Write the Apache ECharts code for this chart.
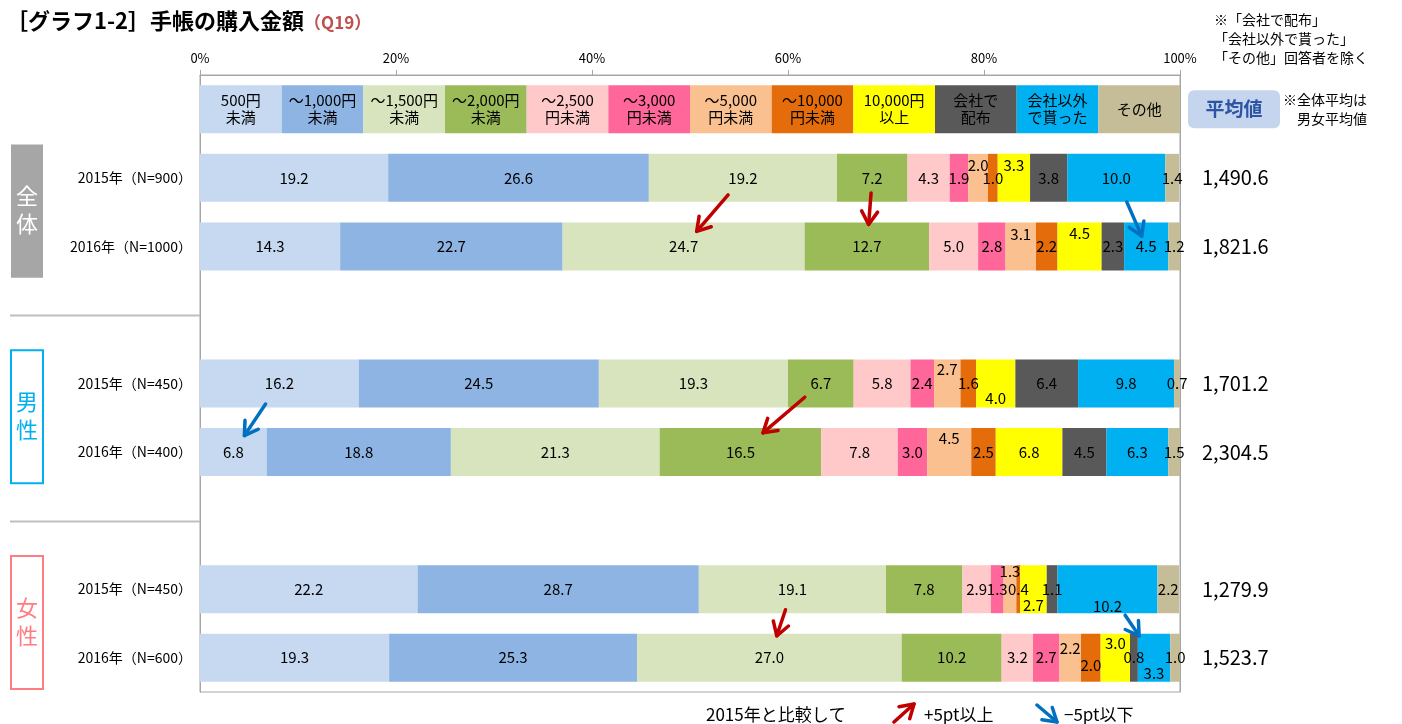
<!DOCTYPE html>
<html>
<head>
<meta charset="utf-8">
<script src="https://cdn.jsdelivr.net/npm/echarts@6/dist/echarts.min.js"></script>
<style>
  html, body { margin: 0; padding: 0; background: #fff; }
  #main { width: 1402px; height: 724px; }
</style>
</head>
<body>
<div id="main"></div>
<script>
// 区分（凡例を兼ねる）
const priceBands = ['500円\n未満', '～1,000円\n未満', '～1,500円\n未満', '～2,000円\n未満', '～2,500\n円未満', '～3,000\n円未満',
  '～5,000\n円未満', '～10,000\n円未満', '10,000円\n以上', '会社で\n配布', '会社以外\nで貰った', 'その他'];
const bandColors = ['#C6D9F1', '#8EB4E3', '#D7E4BD', '#9BBB59', '#FFC9CA', '#FF6699',
  '#FAC090', '#E46C0A', '#FFFF00', '#595959', '#00B0F0', '#C4BD97'];

// 行ラベル（先頭は凡例の行、空文字は区切り）
const rowLabels = ['', '2015年（N=900）', '2016年（N=1000）', '', '2015年（N=450）', '2016年（N=400）', '', '2015年（N=450）', '2016年（N=600）'];
const averages = ['', '1,490.6', '1,821.6', '', '1,701.2', '2,304.5', '', '1,279.9', '1,523.7'];

const all2015 = [19.2, 26.6, 19.2, 7.2, 4.3, 1.9, 2.0, 1.0, 3.3, 3.8, 10.0, 1.4];
const all2016 = [14.3, 22.7, 24.7, 12.7, 5.0, 2.8, 3.1, 2.2, 4.5, 2.3, 4.5, 1.2];
const men2015 = [16.2, 24.5, 19.3, 6.7, 5.8, 2.4, 2.7, 1.6, 4.0, 6.4, 9.8, 0.7];
const men2016 = [6.8, 18.8, 21.3, 16.5, 7.8, 3.0, 4.5, 2.5, 6.8, 4.5, 6.3, 1.5];
const women2015 = [22.2, 28.7, 19.1, 7.8, 2.9, 1.3, 1.3, 0.4, 2.7, 1.1, 10.2, 2.2];
const women2016 = [19.3, 25.3, 27.0, 10.2, 3.2, 2.7, 2.2, 2.0, 3.0, 0.8, 3.3, 1.0];

const rowValues = [null, all2015, all2016, null, men2015, men2016, null, women2015, women2016];

// 小さい区分のラベル位置ずらし [行, 区分, dx, dy]
const labelShift = [
  [1, 6, 0, -13], [1, 8, 0, -13],
  [2, 6, 0, -12], [2, 8, 0, -13],
  [4, 6, 0, -14], [4, 8, 0, 15],
  [5, 6, 0, -14],
  [7, 6, 0, -18], [7, 8, 0, 16], [7, 10, 0, 17],
  [8, 6, 0, -9], [8, 7, 0, 8], [8, 8, 0, -14], [8, 10, 0, 16]
];

// 5pt以上の変化（行from→to、区分）
const red = '#C00000', blue = '#0070C0';
const arrows = [
  { from: 1, to: 2, seg: 2, color: red, t0: 0.25, t1: 0.78 },
  { from: 1, to: 2, seg: 3, color: red, t0: 0.22, t1: 0.68 },
  { from: 1, to: 2, seg: 10, color: blue, t0: 0.35, t1: 0.85 },
  { from: 4, to: 5, seg: 0, color: blue, t0: 0.3, t1: 0.76 },
  { from: 4, to: 5, seg: 3, color: red, t0: 0.2, t1: 0.72 },
  { from: 7, to: 8, seg: 2, color: red, t0: 0.3, t1: 0.68 },
  { from: 7, to: 8, seg: 10, color: blue, t0: 0.38, t1: 0.68 }
];

const font = "'Noto Sans CJK JP', sans-serif";
const legendShare = 100 / priceBands.length;
const chart = echarts.init(document.getElementById('main'));

const series = priceBands.map(function (name, j) {
  const data = rowValues.map(function (r, i) {
    if (i === 0) return { value: legendShare, label: { fontSize: 15, lineHeight: 17 } };
    return r ? { value: r[j] } : null;
  });
  labelShift.forEach(function (s) {
    if (s[1] === j) data[s[0]].label = { offset: [s[2], s[3]] };
  });
  return {
    name: name,
    type: 'bar',
    stack: 'total',
    barWidth: 48,
    itemStyle: { color: bandColors[j] },
    label: {
      show: true,
      color: '#000',
      fontSize: 15,
      fontFamily: font,
      formatter: function (p) {
        return p.dataIndex === 0 ? priceBands[p.seriesIndex] : p.value.toFixed(1);
      }
    },
    emphasis: { disabled: true },
    data: data
  };
});

chart.setOption({
  animation: false,
  textStyle: { fontFamily: font },
  title: {
    left: 6, top: 10, padding: 0,
    text: '{a|［グラフ1-2］手帳の購入金額}{b|（Q19）}',
    textStyle: {
      rich: {
        a: { fontSize: 22, fontWeight: 'bold', color: '#000', fontFamily: font },
        b: { fontSize: 17, color: '#C0504D', fontFamily: font, padding: [3, 0, 0, 0] }
      }
    }
  },
  grid: { left: 200, right: 222, top: 75, bottom: 32, show: true, borderColor: '#a6a6a6', borderWidth: 1 },
  xAxis: {
    type: 'value', position: 'top', min: 0, max: 100, interval: 20,
    axisLabel: { formatter: '{value}%', fontSize: 13, color: '#000', margin: 10 },
    axisLine: { show: true, lineStyle: { color: '#a6a6a6' } },
    axisTick: { show: true, length: 5, lineStyle: { color: '#a6a6a6' } },
    splitLine: { show: false }
  },
  yAxis: [
    {
      type: 'category', inverse: true, data: rowLabels,
      axisLine: { lineStyle: { color: '#a6a6a6' } },
      axisTick: { length: 5, lineStyle: { color: '#a6a6a6' } },
      axisLabel: { fontSize: 14, color: '#000', margin: 8 }
    },
    {
      type: 'category', inverse: true, position: 'right', data: averages,
      axisLine: { show: true, lineStyle: { color: '#a6a6a6' } },
      axisTick: { show: false },
      axisLabel: { fontSize: 20, color: '#000', margin: 22 }
    }
  ],
  series: series
});

// 軸の座標から注記を配置
function px(x, row) {
  return chart.convertToPixel({ xAxisIndex: 0, yAxisIndex: 0 }, [x, row]);
}
const bandH = px(0, 1)[1] - px(0, 0)[1];

function arrow(x1, y1, x2, y2, color) {
  const dx = x2 - x1, dy = y2 - y1, len = Math.sqrt(dx * dx + dy * dy);
  const ux = dx / len, uy = dy / len, h = 13, w = 8;
  return [
    { type: 'polyline', z: 100, shape: { points: [[x1, y1], [x2, y2]] }, style: { stroke: color, lineWidth: 3.5, lineCap: 'round', fill: null } },
    { type: 'polyline', z: 100, shape: { points: [[x2 - h * ux - w * uy, y2 - h * uy + w * ux], [x2, y2], [x2 - h * ux + w * uy, y2 - h * uy - w * ux]] },
      style: { stroke: color, lineWidth: 3.5, lineCap: 'round', lineJoin: 'round', fill: null } }
  ];
}

function segCenter(row, seg) {
  const vals = rowValues[row];
  let start = 0;
  for (let k = 0; k < seg; k++) start += vals[k];
  return px(start + vals[seg] / 2, row);
}

const graphics = [];

// グループ枠
const groups = [
  { text: '全\n体', rows: [1, 2], fill: '#A6A6A6', stroke: null, color: '#fff' },
  { text: '男\n性', rows: [4, 5], fill: '#fff', stroke: '#00B0F0', color: '#00B0F0' },
  { text: '女\n性', rows: [7, 8], fill: '#fff', stroke: '#FF7C80', color: '#FF7C80' }
];
groups.forEach(function (g) {
  const top = px(0, g.rows[0])[1] - bandH / 2;
  const bottom = px(0, g.rows[1])[1] + bandH / 2;
  graphics.push({ type: 'rect', shape: { x: 11, y: top + 1, width: 32, height: bottom - top - 4 },
    style: { fill: g.fill, stroke: g.stroke, lineWidth: 2 } });
  graphics.push({ type: 'text', x: 27, y: (top + bottom) / 2 - 2,
    style: { text: g.text, fontSize: 22, lineHeight: 28, fill: g.color, align: 'center', verticalAlign: 'middle', fontFamily: font } });
});

// 区切り線
[3, 6].forEach(function (row) {
  const y = Math.round(px(0, row)[1]) + 0.5;
  graphics.push({ type: 'line', shape: { x1: 10, y1: y, x2: 200, y2: y }, style: { stroke: '#bfbfbf', lineWidth: 2 } });
});

// 変化の矢印
arrows.forEach(function (a) {
  const p = segCenter(a.from, a.seg), q = segCenter(a.to, a.seg);
  const s = [p[0] + (q[0] - p[0]) * a.t0, p[1] + (q[1] - p[1]) * a.t0];
  const e = [p[0] + (q[0] - p[0]) * a.t1, p[1] + (q[1] - p[1]) * a.t1];
  arrow(s[0], s[1], e[0], e[1], a.color).forEach(function (el) { graphics.push(el); });
});

// 平均値の見出しと注記
const legendY = px(0, 0)[1];
graphics.push({ type: 'rect', shape: { x: 1188, y: legendY - 19, width: 92, height: 38, r: 6 }, style: { fill: '#C5D5EE' } });
graphics.push({ type: 'text', x: 1234, y: legendY, style: { text: '平均値', fontSize: 19, fontWeight: 'bold', fill: '#2E55A5', align: 'center', verticalAlign: 'middle', fontFamily: font } });
graphics.push({ type: 'text', x: 1283, y: legendY, style: { text: '※全体平均は\n　男女平均値', fontSize: 14, lineHeight: 19, fill: '#000', verticalAlign: 'middle', fontFamily: font } });
graphics.push({ type: 'text', x: 1214, y: 10, style: { text: '※「会社で配布」\n「会社以外で貰った」\n「その他」回答者を除く', fontSize: 14, lineHeight: 19, fill: '#000', fontFamily: font } });

// 下の凡例
graphics.push({ type: 'text', x: 706, y: 715, style: { text: '2015年と比較して', fontSize: 17, fill: '#000', verticalAlign: 'middle', fontFamily: font } });
arrow(894, 722, 914, 704, red).forEach(function (el) { graphics.push(el); });
graphics.push({ type: 'text', x: 924, y: 715, style: { text: '+5pt以上', fontSize: 17, fill: '#000', verticalAlign: 'middle', fontFamily: font } });
arrow(1037, 705, 1057, 722, blue).forEach(function (el) { graphics.push(el); });
graphics.push({ type: 'text', x: 1064, y: 715, style: { text: '−5pt以下', fontSize: 17, fill: '#000', verticalAlign: 'middle', fontFamily: font } });

chart.setOption({ graphic: graphics });
</script>
</body>
</html>
